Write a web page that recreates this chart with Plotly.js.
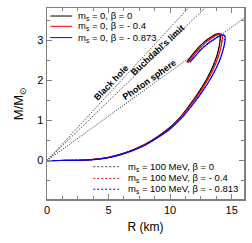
<!DOCTYPE html>
<html>
<head>
<meta charset="utf-8">
<script src="https://cdn.plot.ly/plotly-3.0.1.min.js"></script>
<style>html,body{margin:0;padding:0;background:#fff;}#chart{width:252px;height:243px;}</style>
</head>
<body>
<div id="chart"></div>
<script>
// m_s = 0 curves
var R_ms0_b0   = [0, 1, 2, 3, 4, 5, 6, 7, 8, 9, 10, 10.5, 11, 11.5, 12, 12.5, 13, 13.5, 13.8, 14.0, 14.07, 14.06, 13.95, 13.7, 13.3, 12.8, 12.3, 11.8, 11.35];
var M_ms0_b0   = [0, 0.001, 0.004, 0.013, 0.035, 0.08, 0.16, 0.27, 0.41, 0.6, 0.83, 0.98, 1.15, 1.35, 1.56, 1.79, 2.05, 2.37, 2.62, 2.88, 3.05, 3.13, 3.17, 3.15, 3.08, 2.97, 2.82, 2.64, 2.45];
var R_ms0_b04  = [0, 1, 2, 3, 4, 5, 6, 7, 8, 9, 10, 10.55, 11.06, 11.57, 12.08, 12.6, 13.11, 13.63, 13.94, 14.16, 14.24, 14.23, 14.12, 13.87, 13.47, 12.97, 12.46, 11.95, 11.48];
var M_ms0_b04  = [0, 0.001, 0.004, 0.013, 0.034, 0.078, 0.155, 0.265, 0.4, 0.59, 0.81, 0.98, 1.15, 1.35, 1.56, 1.79, 2.05, 2.37, 2.62, 2.88, 3.05, 3.13, 3.17, 3.15, 3.08, 2.97, 2.82, 2.64, 2.45];
var R_ms0_b087 = [0, 1, 2, 3, 4, 5, 6, 7, 8, 9, 10, 10.6, 11.13, 11.66, 12.19, 12.72, 13.26, 13.81, 14.14, 14.38, 14.47, 14.46, 14.34, 14.08, 13.66, 13.14, 12.62, 12.08, 11.6];
var M_ms0_b087 = [0, 0.001, 0.004, 0.012, 0.032, 0.075, 0.15, 0.255, 0.39, 0.575, 0.79, 0.96, 1.13, 1.33, 1.54, 1.77, 2.03, 2.35, 2.6, 2.86, 3.02, 3.1, 3.14, 3.12, 3.05, 2.94, 2.8, 2.62, 2.45];
// m_s = 100 MeV curves (nearly coincident with the m_s = 0 ones)
var R_ms100_b0   = [0, 1, 2, 3, 4, 5, 6, 7, 8, 9, 10, 10.5, 11, 11.5, 12, 12.5, 13, 13.5, 13.8, 14.0, 14.06, 14.05, 13.94, 13.69, 13.29, 12.79, 12.29, 11.79, 11.34];
var M_ms100_b0   = [0, 0.001, 0.004, 0.013, 0.035, 0.08, 0.16, 0.27, 0.41, 0.6, 0.83, 0.98, 1.15, 1.35, 1.56, 1.79, 2.05, 2.37, 2.62, 2.88, 3.04, 3.12, 3.16, 3.14, 3.07, 2.96, 2.81, 2.63, 2.44];
var R_ms100_b04  = [0, 1, 2, 3, 4, 5, 6, 7, 8, 9, 10, 10.55, 11.06, 11.57, 12.08, 12.6, 13.11, 13.63, 13.94, 14.16, 14.23, 14.22, 14.11, 13.86, 13.46, 12.96, 12.45, 11.94, 11.47];
var M_ms100_b04  = [0, 0.001, 0.004, 0.013, 0.034, 0.078, 0.155, 0.265, 0.4, 0.59, 0.81, 0.98, 1.15, 1.35, 1.56, 1.79, 2.05, 2.37, 2.62, 2.88, 3.04, 3.12, 3.16, 3.14, 3.07, 2.96, 2.81, 2.63, 2.44];
var R_ms100_b081 = [0, 1, 2, 3, 4, 5, 6, 7, 8, 9, 10, 10.6, 11.12, 11.65, 12.18, 12.71, 13.25, 13.8, 14.13, 14.37, 14.45, 14.44, 14.32, 14.06, 13.64, 13.12, 12.6, 12.06, 11.58];
var M_ms100_b081 = [0, 0.001, 0.004, 0.012, 0.032, 0.075, 0.15, 0.255, 0.39, 0.575, 0.79, 0.96, 1.13, 1.33, 1.54, 1.77, 2.03, 2.35, 2.6, 2.86, 3.02, 3.1, 3.14, 3.12, 3.05, 2.94, 2.8, 2.62, 2.45];
// limit lines (R, M endpoints)
var R_limit = [0, 16];
var M_blackhole = [0, 5.31];
var M_buchdahl  = [0, 4.75];
var M_photon    = [0, 3.555];
// labels
var solidLabels  = ["m<sub>s</sub> = 0, β = 0", "m<sub>s</sub> = 0, β = - 0.4", "m<sub>s</sub> = 0, β = - 0.873"];
var dashedLabels = ["m<sub>s</sub> = 100 MeV, β = 0", "m<sub>s</sub> = 100 MeV, β = - 0.4", "m<sub>s</sub> = 100 MeV, β = - 0.813"];
var limitLabels  = ["Black hole", "Buchdahl's limit", "Photon sphere"];
var xTicks = [0, 5, 10, 15];
var yTicks = [0, 1, 2, 3];

var colors = ["#000000", "#ff0000", "#0000ff"];
var dashColors = ["#444444", "#ff0000", "#0000ff"];
var FONT = "Liberation Sans, Arial, sans-serif";

function line(x, y, color, width, dash) {
  return {x: x, y: y, type: "scatter", mode: "lines", showlegend: false, hoverinfo: "skip",
          line: {color: color, width: width, dash: dash || "solid", shape: "spline", smoothing: 0.6}};
}
var traces = [
  {x: R_limit, y: M_blackhole, type: "scatter", mode: "lines", showlegend: false, line: {color: "#000", width: 0.9, dash: "1px,1.5px"}},
  {x: R_limit, y: M_buchdahl,  type: "scatter", mode: "lines", showlegend: false, line: {color: "#000", width: 0.9, dash: "1px,1.5px"}},
  {x: R_limit, y: M_photon,    type: "scatter", mode: "lines", showlegend: false, line: {color: "#000", width: 0.9, dash: "1px,1.5px"}},
  line(R_ms100_b0, M_ms100_b0, dashColors[0], 1, "2px,2px"),
  line(R_ms100_b04, M_ms100_b04, dashColors[1], 1, "2px,2px"),
  line(R_ms100_b081, M_ms100_b081, dashColors[2], 1, "2px,2px"),
  line(R_ms0_b0, M_ms0_b0, colors[0], 1.2),
  line(R_ms0_b04, M_ms0_b04, colors[1], 1.2),
  line(R_ms0_b087, M_ms0_b087, colors[2], 1.2)
];

var shapes = [];
var annotations = [];
var topRows = [0.958, 0.904, 0.845];
var botRows = [0.169, 0.108, 0.051];
for (var i = 0; i < 3; i++) {
  shapes.push({type: "line", xref: "paper", yref: "paper", x0: 0.017, x1: 0.128, y0: topRows[i], y1: topRows[i],
               line: {color: colors[i], width: 1}});
  annotations.push({xref: "paper", yref: "paper", x: 0.145, y: topRows[i], xanchor: "left", yanchor: "middle",
               text: solidLabels[i], showarrow: false, font: {family: FONT, size: 9.5, color: "#000"}});
  shapes.push({type: "line", xref: "paper", yref: "paper", x0: 0.235, x1: 0.366, y0: botRows[i], y1: botRows[i],
               line: {color: dashColors[i], width: 1, dash: "2px,2px"}});
  annotations.push({xref: "paper", yref: "paper", x: 0.403, y: botRows[i], xanchor: "left", yanchor: "middle",
               text: dashedLabels[i], showarrow: false, font: {family: FONT, size: 9.5, color: "#000"}});
}
var labelPos = [[5.2, 1.93, -46], [9.0, 2.76, -43], [8.3, 2.01, -35]];
for (var j = 0; j < 3; j++) {
  annotations.push({x: labelPos[j][0], y: labelPos[j][1], xref: "x", yref: "y", text: "<b>" + limitLabels[j] + "</b>",
    showarrow: false, textangle: labelPos[j][2], font: {family: FONT, size: 9, color: "#000"}});
}

var axisCommon = {
  showgrid: false, zeroline: false, showline: true, linecolor: "#808080", linewidth: 1.5, mirror: "allticks",
  ticks: "inside", ticklen: 5, tickwidth: 1, tickcolor: "#808080",
  tickfont: {family: FONT, size: 11, color: "#000"},
  minor: {ticks: "inside", ticklen: 3, tickwidth: 1, tickcolor: "#808080"}
};
var layout = {
  width: 252, height: 243,
  margin: {l: 47, r: 8, t: 8, b: 44},
  paper_bgcolor: "#fff", plot_bgcolor: "#fff",
  showlegend: false,
  xaxis: Object.assign({}, axisCommon, {range: [0, 16], tickvals: xTicks, ticktext: xTicks.map(String),
    minor: Object.assign({}, axisCommon.minor, {dtick: 1.25, tick0: 0}),
    title: {text: "R (km)", font: {family: FONT, size: 12, color: "#000"}, standoff: 8}}),
  yaxis: Object.assign({}, axisCommon, {range: [-0.96, 3.81], tickvals: yTicks, ticktext: yTicks.map(String),
    minor: Object.assign({}, axisCommon.minor, {dtick: 0.5, tick0: 0}),
    title: {text: "M/M<sub>⊙</sub>", font: {family: FONT, size: 13, color: "#000"}, standoff: 10}}),
  shapes: shapes,
  annotations: annotations
};
Plotly.newPlot("chart", traces, layout, {staticPlot: true, displayModeBar: false});
</script>
</body>
</html>
